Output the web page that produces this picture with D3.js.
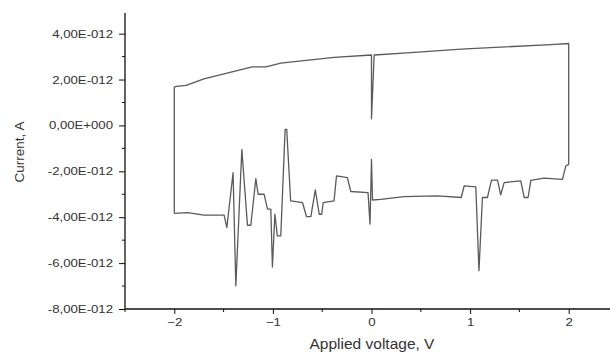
<!DOCTYPE html>
<html>
<head>
<meta charset="utf-8">
<script src="https://cdn.jsdelivr.net/npm/d3@7"></script>
<style>
    body { margin: 0; background: #fff; }
    svg { display: block; }
    .tickLabel { font-family: "Liberation Sans", Arial, sans-serif; font-size: 11px; fill: #333; }
    .axisTitle { font-family: "Liberation Sans", Arial, sans-serif; fill: #333; }
</style>
</head>
<body>
<svg id="chart" width="610" height="353"></svg>
<script>
// I-V sweep (loop traced from the lower-left corner)
const voltage = [
    -2.0, -2.0, -1.98, -1.88, -1.70, -1.21, -1.07, -0.92, -0.38, 0.0, 0.0, 0.027, 0.36, 0.91, 1.82, 2.0,
    2.0, 1.97, 1.937, 1.75, 1.616, 1.588, 1.548, 1.514, 1.345, 1.31, 1.278, 1.217, 1.176, 1.125, 1.09, 1.058,
    0.94, 0.91, 0.67, 0.33, 0.094, 0.01, 0.0, -0.015, -0.035, -0.21, -0.245, -0.355, -0.38, -0.49, -0.505,
    -0.53, -0.57, -0.615, -0.66, -0.70, -0.82, -0.86, -0.876, -0.92, -0.955, -0.98, -1.005, -1.021, -1.055,
    -1.089, -1.15, -1.173, -1.224, -1.258, -1.315, -1.376, -1.404, -1.467, -1.495, -1.70, -1.865, -2.0
];
// current in units of 1E-12 A
const current = [
    -3.83, 1.67, 1.70, 1.75, 2.03, 2.55, 2.55, 2.72, 2.97, 3.07, 0.29, 3.07, 3.16, 3.33, 3.52, 3.57,
    -1.70, -1.77, -2.35, -2.30, -2.39, -3.14, -3.14, -2.42, -2.49, -3.03, -2.38, -2.38, -3.14, -3.14, -6.33, -2.68,
    -2.63, -3.14, -3.07, -3.10, -3.22, -3.25, -1.48, -4.30, -2.93, -2.88, -2.27, -2.20, -3.29, -3.36, -3.87,
    -3.87, -2.81, -3.97, -3.97, -3.36, -3.29, -0.17, -0.17, -4.81, -4.81, -3.87, -6.17, -3.65, -3.65,
    -3.00, -3.00, -2.32, -4.35, -4.35, -1.04, -6.99, -2.06, -4.45, -3.91, -3.91, -3.80, -3.83
];
const xTicks = [-2, -1, 0, 1, 2];
const xMinorTicks = [-2.5, -1.5, -0.5, 0.5, 1.5, 2.5];
const yTicks = [-8, -6, -4, -2, 0, 2, 4];
const yMinorTicks = [-7, -5, -3, -1, 1, 3];
const xTitle = "Applied voltage, V";
const yTitle = "Current, A";

const svg = d3.select("#chart");
const padLeft = 125, padBottom = 309, padTop = 13, xEnd = 618;

const x = d3.scaleLinear().domain([-2.5, 2.5]).range([padLeft, xEnd]);
const y = d3.scaleLinear().domain([-8, 4.9]).range([padBottom, padTop]);

// "4,00E-012" style labels
function fmtY(v) {
    if (v === 0) return "0,00E+000";
    return v.toFixed(2).replace(".", ",") + "E-012";
}

// data line first, axes drawn on top
const line = d3.line()
    .x((d, i) => x(voltage[i]))
    .y(d => y(d));

svg.append("path")
    .datum(current)
    .attr("d", line)
    .style("fill", "none")
    .style("stroke", "#5a5a5a")
    .style("stroke-width", 1.3)
    .style("stroke-linejoin", "round");

// y axis
const yAxis = svg.append("g")
    .attr("transform", `translate(${padLeft},0)`)
    .call(d3.axisLeft(y).tickValues(yTicks).tickSize(6).tickFormat(fmtY));
yAxis.select(".domain").attr("d", `M0,${padTop}V${padBottom}`).style("stroke", "#111").style("stroke-width", 1.3);
yAxis.selectAll(".tick line").style("stroke", "#111");
yAxis.selectAll(".tick text")
    .attr("class", "tickLabel")
    .attr("x", -12 / 1.2)
    .attr("transform", "scale(1.2,1)");
yAxis.selectAll(".minor")
    .data(yMinorTicks)
    .join("line")
    .attr("class", "minor")
    .attr("x1", 0).attr("x2", -3)
    .attr("y1", d => y(d)).attr("y2", d => y(d))
    .style("stroke", "#111");

// x axis
const xAxis = svg.append("g")
    .attr("transform", `translate(0,${padBottom})`)
    .call(d3.axisBottom(x).tickValues(xTicks).tickSize(5).tickFormat(d3.format("d")));
xAxis.select(".domain").attr("d", `M${padLeft},0H610`).style("stroke", "#111").style("stroke-width", 1.3);
xAxis.selectAll(".tick line").style("stroke", "#111");
xAxis.selectAll(".tick text")
    .attr("class", "tickLabel")
    .attr("y", 9)
    .attr("transform", "scale(1.2,1)");
xAxis.selectAll(".minor")
    .data(xMinorTicks)
    .join("line")
    .attr("class", "minor")
    .attr("x1", d => x(d)).attr("x2", d => x(d))
    .attr("y1", 0).attr("y2", 3)
    .style("stroke", "#111");

// titles
svg.append("text")
    .attr("class", "axisTitle")
    .attr("x", 372).attr("y", 349)
    .attr("text-anchor", "middle")
    .style("font-size", "15.5px")
    .text(xTitle);

svg.append("text")
    .attr("class", "axisTitle")
    .attr("transform", "translate(24,152) rotate(-90)")
    .attr("text-anchor", "middle")
    .style("font-size", "13.5px")
    .text(yTitle);
</script>
</body>
</html>
